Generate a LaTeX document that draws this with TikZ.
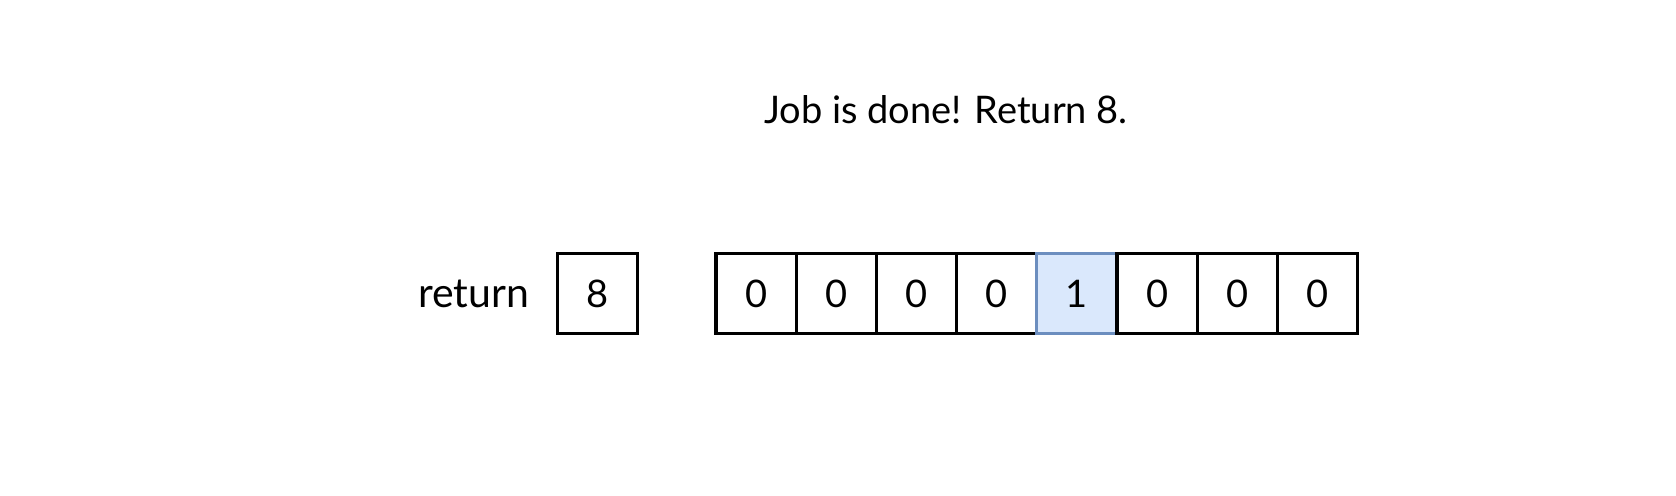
\documentclass[tikz,border=0pt]{standalone}
\usepackage{fontspec}
\setmainfont{Lato}
\usepackage{tikz}
\usetikzlibrary{positioning}
\definecolor{cellfill}{HTML}{DAE8FC}
\definecolor{celledge}{HTML}{6C8EBF}

\begin{document}
\begin{tikzpicture}[x=1pt,y=1pt,
  txt/.style={font=\fontsize{19}{22}\selectfont},
  cell/.style={draw, line width=1.6pt, minimum size=40.1pt, inner sep=0pt, outer sep=0pt, txt},
  hot/.style={cell, draw=celledge, fill=cellfill}]
\useasboundingbox (0,0) rectangle (838,248);
%
\node[txt] (title) at (473,193) {Job is done! Return 8.};
%
\node[cell] (res) at (298.75,101.25) {8};
\node[txt, font=\fontsize{20.5}{23}\selectfont] (reslabel) at (236.75,101.25) {return};
%
\node[cell] (b1) at (378.05,101.25) {0};
\foreach \v/\s [count=\i from 2, evaluate=\i as \p using int(\i-1)] in {0/cell,0/cell,0/cell,1/hot,0/cell,0/cell,0/cell}
  \node[\s, right=0pt of b\p] (b\i) {\v};
\end{tikzpicture}
\end{document}
